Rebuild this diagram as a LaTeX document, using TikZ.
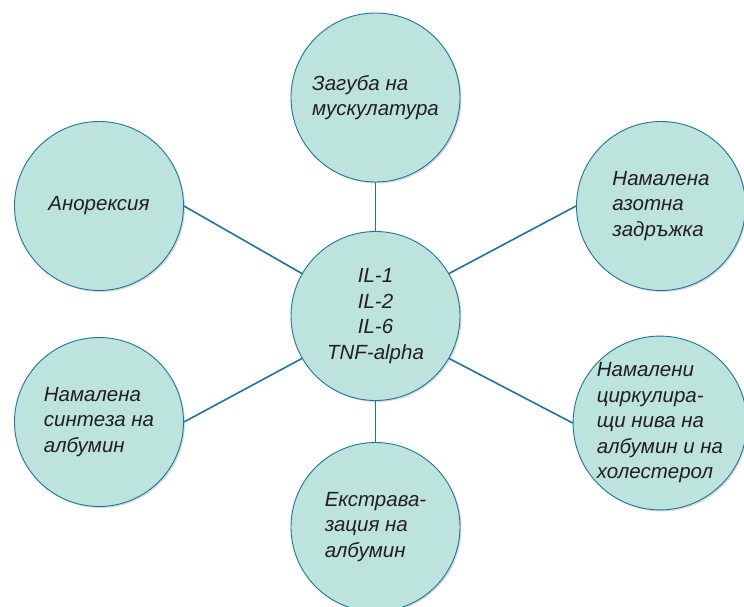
\documentclass[tikz,border=0pt]{standalone}
\usepackage{fontspec}
\setmainfont{Liberation Sans}
\usetikzlibrary{shadows}
\definecolor{bubblefill}{HTML}{BDE3DD}
\definecolor{bubbleline}{HTML}{1B75A0}
\definecolor{bubbletext}{HTML}{231F20}
\begin{document}
\begin{tikzpicture}[x=1pt, y=-1pt,
		every node/.style = {shape=circle, draw=bubbleline, fill=bubblefill, line width=0.9pt,
			minimum size=169pt, inner sep=0pt, align=left, text=bubbletext,
			font=\fontsize{20.5}{25.5}\selectfont\itshape,
			drop shadow={shadow xshift=1.5pt, shadow yshift=-1.5pt, opacity=0.3}},
		link/.style = {draw=bubbleline, line width=1.6pt}]
		\useasboundingbox (0,0) rectangle (744,607);
		\node[align=center] (cytokines) at (375.5,316) {IL-1\\IL-2\\IL-6\\TNF-alpha};
		\node (muscle) at (375.5,97.5) {Загуба на\\мускулатура};
		\node (anorexia) at (99,206) {Анорексия};
		\node (nitrogen) at (661,206) {Намалена\\азотна\\задръжка};
		\node (synthesis) at (99,422) {Намалена\\синтеза на\\албумин};
		\node (levels) at (660,423) {Намалени\\циркулира-\\щи нива на\\албумин и на\\холестерол};
		\node (extravasation) at (375.5,527) {Екстрава-\\зация на\\албумин};
		\draw[link] (cytokines.north) -- (muscle.south);
		\draw[link] (cytokines.south) -- (extravasation.north);
		\draw[link] (cytokines.150) -- (anorexia.east);
		\draw[link] (cytokines.210) -- (synthesis.east);
		\draw[link] (cytokines.30) -- (nitrogen.west);
		\draw[link] (cytokines.-30) -- (levels.west);
	\end{tikzpicture}
\end{document}
